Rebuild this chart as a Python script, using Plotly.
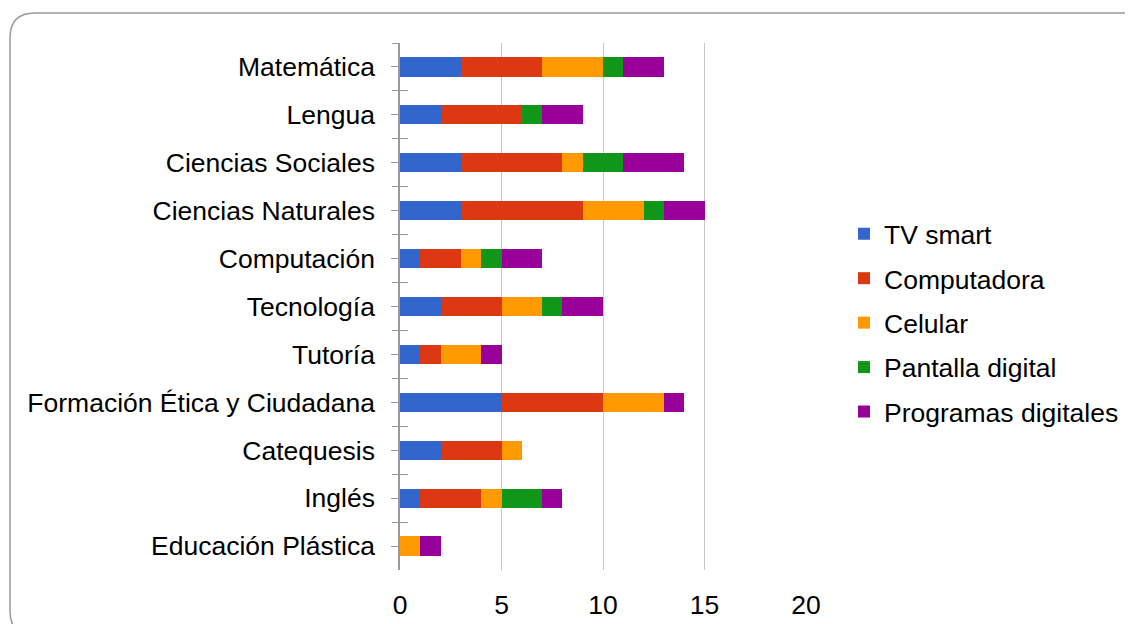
import plotly.graph_objects as go

categories = ["Matemática", "Lengua", "Ciencias Sociales", "Ciencias Naturales",
              "Computación", "Tecnología", "Tutoría", "Formación Ética y Ciudadana",
              "Catequesis", "Inglés", "Educación Plástica"]
tv_smart = [3, 2, 3, 3, 1, 2, 1, 5, 2, 1, 0]
computadora = [4, 4, 5, 6, 2, 3, 1, 5, 3, 3, 0]
celular = [3, 0, 1, 3, 1, 2, 2, 3, 1, 1, 1]
pantalla = [1, 1, 2, 1, 1, 1, 0, 0, 0, 2, 0]
programas = [2, 2, 3, 2, 2, 2, 1, 1, 0, 1, 1]
x_ticks = [0, 5, 10, 15, 20]

series = [("TV smart", tv_smart, "#3366CC"),
          ("Computadora", computadora, "#DC3912"),
          ("Celular", celular, "#FF9900"),
          ("Pantalla digital", pantalla, "#109618"),
          ("Programas digitales", programas, "#990099")]

FONT = "Liberation Sans, Arial, sans-serif"
FS = 26.5
OFF = 8  # page body margin
W, H = 1133 - OFF, 624 - OFF
# reference pixel positions, converted to figure coordinates
L = 400 - OFF
R = 1133 - 806
T = 43 - OFF
B = 624 - 570

fig = go.Figure()
for name, vals, col in series:
    fig.add_trace(go.Bar(y=categories, x=vals, name=name, orientation="h",
                         marker=dict(color=col, line=dict(width=0)),
                         legendgroup=name))

# helper traces to register categories on overlay axes (for tick marks)
for ax in ["y2", "y3"]:
    fig.add_trace(go.Scatter(x=[None] * len(categories), y=categories, yaxis=ax,
                             mode="markers", showlegend=False, hoverinfo="skip"))

rng = [len(categories) - 0.5, -0.5]
common_y = dict(type="category", categoryorder="array", categoryarray=categories,
                range=rng, tickcolor="#999999", tickwidth=1, automargin=False)

fig.update_layout(
    width=W, height=H,
    barmode="stack", bargap=0.6,
    plot_bgcolor="white", paper_bgcolor="white",
    margin=dict(l=L, r=R, t=T, b=B),
    font=dict(family=FONT, size=FS, color="#000000"),
    xaxis=dict(range=[0, 20], tickvals=x_ticks, showgrid=True, gridcolor="#c6c6c6",
               gridwidth=1, zeroline=False, showline=False, ticks="",
               ticklabelstandoff=16, tickfont=dict(size=FS), automargin=False),
    yaxis=dict(**common_y, ticks="outside", ticklen=7, tickson="labels",
               showline=True, linecolor="#999999", linewidth=1.5,
               ticklabelstandoff=11, tickfont=dict(size=FS)),
    yaxis2=dict(**common_y, overlaying="y", ticks="outside", ticklen=7,
                tickson="boundaries", showticklabels=False, showline=False,
                showgrid=False),
    yaxis3=dict(**common_y, overlaying="y", ticks="inside", ticklen=8,
                tickson="boundaries", showticklabels=False, showline=False,
                showgrid=False),
    legend=dict(x=(844 - OFF) / W, xref="container", xanchor="left",
                y=(624 - 323) / H, yref="container", yanchor="middle",
                font=dict(size=FS), tracegroupgap=7, itemwidth=30,
                bgcolor="rgba(0,0,0,0)"),
)

# rounded border around the chart (pixel -> paper conversion)
pw = W - L - R
ph = H - T - B
def px(x):
    return (x - OFF - L) / pw
def py(y):
    return (H - B - (y - OFF)) / ph
x0, x1, y0, y1, r = 10, 1147, 13, 636, 25
path = (f"M {px(x0 + r)} {py(y0)} L {px(x1 - r)} {py(y0)} "
        f"Q {px(x1)} {py(y0)} {px(x1)} {py(y0 + r)} "
        f"L {px(x1)} {py(y1 - r)} Q {px(x1)} {py(y1)} {px(x1 - r)} {py(y1)} "
        f"L {px(x0 + r)} {py(y1)} Q {px(x0)} {py(y1)} {px(x0)} {py(y1 - r)} "
        f"L {px(x0)} {py(y0 + r)} Q {px(x0)} {py(y0)} {px(x0 + r)} {py(y0)} Z")
fig.add_shape(type="path", path=path, xref="paper", yref="paper",
              line=dict(color="#9a9a9a", width=1.5), layer="below")

fig.write_html("out.html")
